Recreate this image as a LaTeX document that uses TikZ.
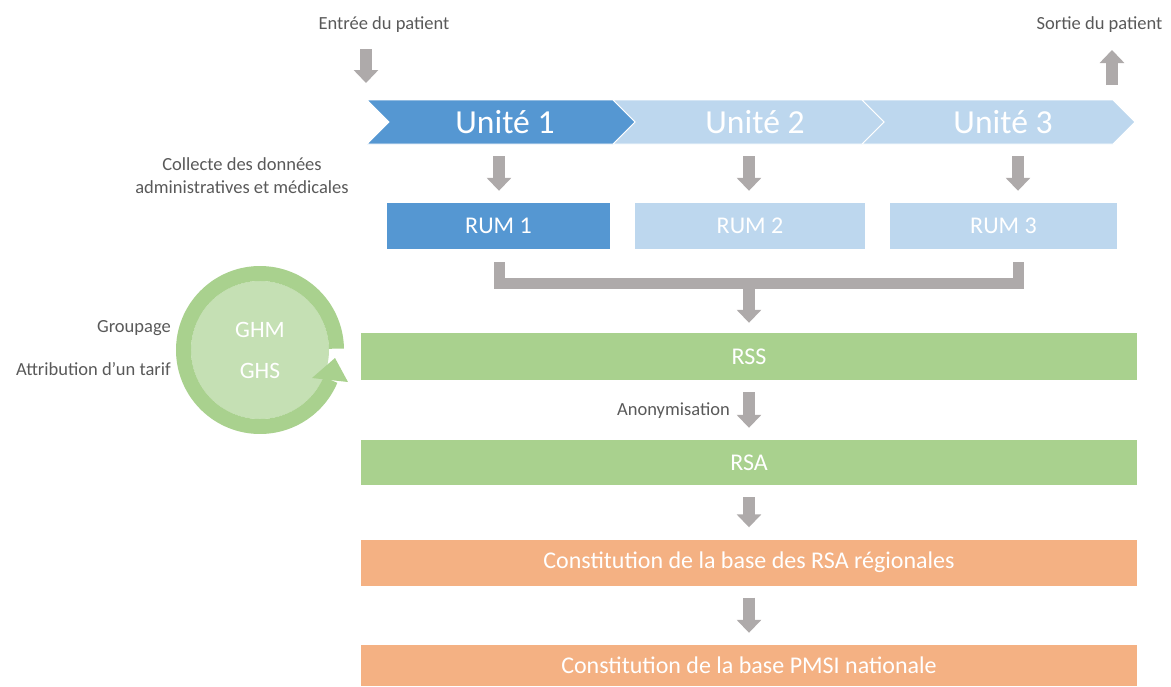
\documentclass[tikz,border=0pt]{standalone}
\usepackage{fontspec}
\setmainfont{Carlito}
\usetikzlibrary{arrows.meta}
\usetikzlibrary{positioning}
\usetikzlibrary{calc}

\definecolor{unitdark}{HTML}{5597D2}
\definecolor{unitlight}{HTML}{BDD7EE}
\definecolor{rssgreen}{HTML}{A9D18E}
\definecolor{ghmgreen}{HTML}{C5E0B4}
\definecolor{baseorange}{HTML}{F4B183}
\definecolor{flowgray}{HTML}{AEAAAA}
\definecolor{labelgray}{HTML}{595959}

\tikzset{
    note/.style={text=labelgray, inner sep=0pt, text height=11pt, text depth=0pt,
        font=\fontsize{18.5}{23}\selectfont},
    unit/.style={text=white, inner sep=0pt, minimum width=240pt, minimum height=44pt,
        font=\fontsize{33.6}{40}\selectfont},
    box/.style={text=white, inner sep=0pt, minimum height=46pt,
        font=\fontsize{24}{28}\selectfont},
    garrow/.style={draw=flowgray, line width=12pt, -{Triangle[width=24pt,length=13pt]}},
    gbar/.style={draw=flowgray, line width=11pt, line join=miter},
    gap/.style={shorten <=12pt, shorten >=12pt}
}

\begin{document}
\begin{tikzpicture}[x=1pt,y=1pt]
    \useasboundingbox (0,0) rectangle (1171,-686);

    % arrow columns
    \coordinate (k1) at (499,0);
    \coordinate (k2) at (749,0);
    \coordinate (k3) at (1018,0);

    % patient in / out
    \node[note] (entree) at (384,-24) {Entrée du patient};
    \node[note] (sortie) at (1099.5,-24) {Sortie du patient};
    \coordinate (in)     at (366,-49);
    \coordinate (inend)  at (366,-83);
    \coordinate (out)    at (1112,-85);
    \coordinate (outend) at (1112,-50);

    % chevrons
    \filldraw[unitlight, draw=white, line width=0.8pt]
        (862,-100) -- (1113,-100) -- (1135,-122) -- (1113,-144) -- (862,-144) -- (884,-122) -- cycle;
    \filldraw[unitlight, draw=white, line width=0.8pt]
        (613,-100) -- (862,-100) -- (884,-122) -- (862,-144) -- (613,-144) -- (635,-122) -- cycle;
    \filldraw[unitdark, draw=white, line width=0.8pt]
        (367,-100) -- (613,-100) -- (635,-122) -- (613,-144) -- (367,-144) -- (389,-122) -- cycle;
    \node[unit] (u1) at (505,-122) {Unité 1};
    \node[unit] (u2) at (755,-122) {Unité 2};
    \node[unit] (u3) at (1003,-122) {Unité 3};

    \node[note, align=center, text height=, text depth=] (collecte) at (242,-176)
        {Collecte des données\\administratives et médicales};

    % RUM
    \node[box, fill=unitdark, minimum width=223pt] (rum1) at (498.5,-226) {RUM 1};
    \node[box, fill=unitlight, minimum width=230pt] (rum2) at (750,-226) {RUM 2};
    \node[box, fill=unitlight, minimum width=227pt] (rum3) at (1003.5,-226) {RUM 3};

    % main column
    \node[box, fill=rssgreen, minimum width=776pt, minimum height=47pt] (rss) at (749,-356.5) {RSS};
    \node[box, fill=rssgreen, minimum width=776pt, minimum height=45pt] (rsa) at (749,-462.5) {RSA};
    \node[box, fill=baseorange, minimum width=776pt] (reg) at (749,-562.5)
        {Constitution de la base des RSA régionales};
    \node[box, fill=baseorange, minimum width=776pt, minimum height=41pt] (nat) at (749,-665.5)
        {Constitution de la base PMSI nationale};

    % grouping circle
    \node[circle, fill=ghmgreen, minimum size=138pt, inner sep=0pt, align=center, text=white,
        font=\fontsize{23.5}{41}\selectfont] (grp) at (260,-350) {GHM\\GHS};
    \begin{scope}[shift={(grp.center)}]
        \fill[rssgreen] (1:84) arc[start angle=1, end angle=337, radius=84]
            -- (337:69) arc[start angle=337, end angle=1, radius=69] -- cycle;
        \fill[rssgreen] (52,-28) -- (88,-32) -- (75,-8) -- cycle;
    \end{scope}
    \node[note, anchor=east] (groupage) at (171,-327) {Groupage};
    \node[note, anchor=east] (tarif) at (171,-370) {Attribution d’un tarif};

    % Lines
    \draw[garrow] (in) -- (inend);
    \draw[garrow] (out) -- (outend);
    \draw[garrow, gap] (u1.south -| k1) -- (rum1.north -| k1);
    \draw[garrow, gap] (u2.south -| k2) -- (rum2.north -| k2);
    \draw[garrow, gap] (u3.south -| k3) -- (rum3.north -| k3);

    \draw[gbar] ($(rum1.south -| k1)+(0,-13)$) -- ++(0,-21.5) -| ($(rum3.south -| k3)+(0,-13)$);
    \coordinate (join) at ($(rum1.south -| k2)+(0,-34.5)$);
    \draw[garrow, shorten >=10pt] (join) -- (rss.north -| join);

    \draw[garrow, gap] (rss) -- (rsa);
    \path (rss) -- (rsa) coordinate[midway] (anon);
    \node[note, anchor=east] (anonym) at ([xshift=-19pt]anon) {Anonymisation};
    \draw[garrow, gap] (rsa) -- (reg);
    \draw[garrow, gap] (reg) -- (nat);
\end{tikzpicture}
\end{document}
